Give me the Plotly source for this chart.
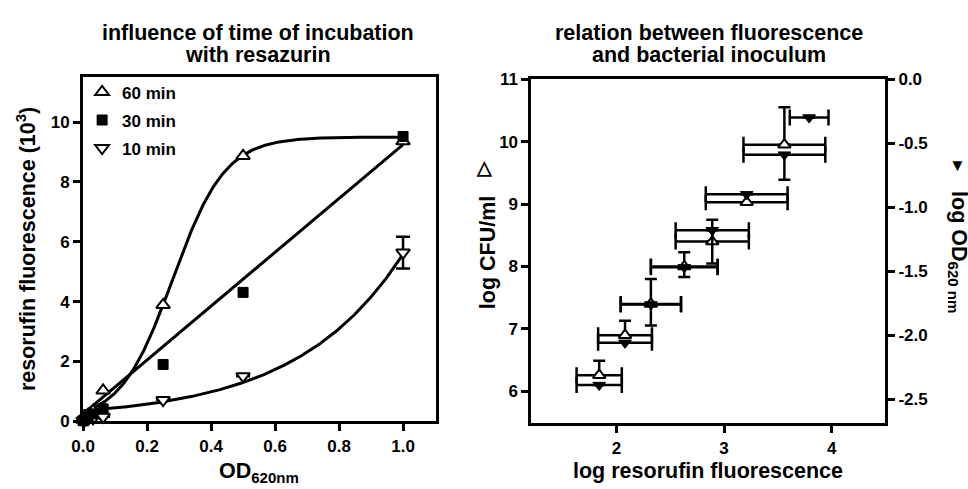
import numpy as np
import plotly.graph_objects as go

W, H = 968, 489
FONT = "Liberation Sans, Arial, Helvetica, sans-serif"

# ---- Left panel: resorufin fluorescence (x10^3) vs OD620 for three incubation times
od = [0.0, 0.004, 0.008, 0.0156, 0.031, 0.0625, 0.25, 0.5, 1.0]
fl_60 = [0.05, 0.10, 0.15, 0.22, 0.35, 1.03, 3.89, 8.87, 9.36]
fl_30 = [0.02, 0.05, 0.10, 0.15, 0.25, 0.42, 1.90, 4.31, 9.52]
fl_10 = [0.02, 0.04, 0.06, 0.08, 0.10, 0.15, 0.71, 1.51, 5.64]
fl_10_err = [None, None, None, None, None, None, None, None, 0.53]

# fitted models drawn through each series
sig_top, sig_bottom, sig_v50, sig_slope = 9.5, 0.0, 0.28, 0.082   # 60 min, Boltzmann sigmoid
lin_slope, lin_icpt = 9.0, 0.25                                  # 30 min, straight line
exp_a, exp_b, exp_k = 0.081, 0.269, 3.02                         # 10 min, exponential growth

# ---- Right panel: log CFU/ml and log OD620 vs log resorufin fluorescence
log_fluor = [1.84, 2.08, 2.32, 2.63, 2.89, 3.21, 3.56, 3.79]
log_fluor_err = [0.21, 0.25, 0.28, 0.31, 0.34, 0.38, 0.38, 0.18]
log_cfu = [6.26, 6.90, 7.40, 8.00, 8.40, 9.03, 9.95]
log_cfu_err_up = [0.23, 0.23, 0.40, 0.23, 0.35, None, 0.60]
log_od = [-2.39, -2.06, -1.76, -1.47, -1.18, -0.90, -0.59, -0.30]
log_od_err_down = [None, None, 0.165, 0.075, 0.26, None, 0.195, None]

x1_ticks = [0.0, 0.2, 0.4, 0.6, 0.8, 1.0]
y1_ticks = [0, 2, 4, 6, 8, 10]
x2_ticks = [2, 3, 4]
y2_ticks = [6, 7, 8, 9, 10, 11]
y3_ticks = [0.0, -0.5, -1.0, -1.5, -2.0, -2.5]

fig = go.Figure()

xs = np.linspace(0, 1, 300)
curve_60 = sig_bottom + (sig_top - sig_bottom) / (1 + np.exp((sig_v50 - xs) / sig_slope))
curve_30 = lin_icpt + lin_slope * xs
curve_10 = exp_a + exp_b * np.exp(exp_k * xs)
for cy in (curve_60, curve_30, curve_10):
    fig.add_trace(go.Scatter(x=xs, y=cy, mode="lines", line=dict(color="black", width=3),
                             showlegend=False, hoverinfo="skip", xaxis="x", yaxis="y"))

mk_line = dict(color="black", width=2)
fig.add_trace(go.Scatter(
    x=od, y=fl_60, mode="markers", name="60 min", legendgroup="a", legendrank=1,
    marker=dict(symbol="triangle-up", size=12, color="white", line=mk_line),
    cliponaxis=False, xaxis="x", yaxis="y"))
fig.add_trace(go.Scatter(
    x=od, y=fl_10, mode="markers", name="10 min", legendgroup="c", legendrank=3,
    marker=dict(symbol="triangle-down", size=12, color="white", line=mk_line),
    error_y=dict(type="data", array=fl_10_err, color="black", thickness=2.5, width=7),
    cliponaxis=False, xaxis="x", yaxis="y"))
fig.add_trace(go.Scatter(
    x=od, y=fl_30, mode="markers", name="30 min", legendgroup="b", legendrank=2,
    marker=dict(symbol="square", size=10, color="black", line=dict(color="black", width=1)),
    cliponaxis=False, xaxis="x", yaxis="y"))

n_cfu = len(log_cfu)
fig.add_trace(go.Scatter(
    x=log_fluor[:n_cfu], y=log_cfu, mode="markers", showlegend=False,
    marker=dict(symbol="triangle-up", size=11, color="white", line=mk_line),
    error_x=dict(type="data", array=log_fluor_err[:n_cfu], color="black", thickness=2.5, width=8),
    error_y=dict(type="data", symmetric=False, array=log_cfu_err_up,
                 arrayminus=[0 if v is not None else None for v in log_cfu_err_up],
                 color="black", thickness=2.5, width=6),
    cliponaxis=False, xaxis="x2", yaxis="y2"))
fig.add_trace(go.Scatter(
    x=log_fluor, y=log_od, mode="markers", showlegend=False,
    marker=dict(symbol="triangle-down", size=11, color="black", line=dict(color="black", width=1)),
    error_x=dict(type="data", array=log_fluor_err, color="black", thickness=2.5, width=8),
    error_y=dict(type="data", symmetric=False, arrayminus=log_od_err_down,
                 array=[0 if v is not None else None for v in log_od_err_down],
                 color="black", thickness=2.5, width=6),
    cliponaxis=False, xaxis="x2", yaxis="y3"))

tickfont = dict(family=FONT, size=17, color="black", weight="bold")
base = dict(showline=True, linecolor="black", linewidth=3, ticks="outside", ticklen=7,
            tickwidth=3, tickcolor="black", showgrid=False, zeroline=False, tickfont=tickfont)

fig.update_layout(
    width=W, height=H, margin=dict(l=0, r=0, t=0, b=0),
    paper_bgcolor="white", plot_bgcolor="white",
    font=dict(family=FONT, color="black", weight="bold"),
    xaxis=dict(base, domain=[72 / W, 429 / W], range=[0, 1.102], tickvals=x1_ticks,
               ticktext=[f"{v:.1f}" for v in x1_ticks], mirror=True, anchor="y"),
    yaxis=dict(base, domain=[1 - 429 / H, 1 - 71 / H], range=[0, 11.5], tickvals=y1_ticks,
               ticktext=[str(v) for v in y1_ticks], mirror=True, anchor="x"),
    xaxis2=dict(base, domain=[526 / W, 884 / W], range=[1.211, 4.495], tickvals=x2_ticks,
                ticktext=[str(v) for v in x2_ticks], mirror=True, anchor="y2"),
    yaxis2=dict(base, domain=[1 - 431 / H, 1 - 73 / H], range=[5.49, 11], tickvals=y2_ticks,
                ticktext=[str(v) for v in y2_ticks], anchor="x2"),
    yaxis3=dict(base, overlaying="y2", side="right", anchor="x2", range=[-2.688, 0],
                tickvals=y3_ticks, ticktext=[f"{v:.1f}" for v in y3_ticks]),
    legend=dict(x=71 / W, xanchor="left", y=1 - 68 / H, yanchor="top",
                font=dict(family=FONT, size=17, color="black", weight="bold"),
                bgcolor="rgba(0,0,0,0)", tracegroupgap=3, itemclick=False),
    showlegend=True,
)


def label(text, px, py, size=21.5, angle=0):
    fig.add_annotation(text=text, x=px / W, y=1 - py / H, xref="paper", yref="paper",
                       showarrow=False, textangle=angle, xanchor="center", yanchor="middle",
                       font=dict(family=FONT, size=size, color="black", weight="bold"))


label("influence of time of incubation", 249, 25)
label("with resazurin", 249, 48)
label("relation between fluorescence", 706, 25)
label("and bacterial inoculum", 706, 48)
label("resorufin fluorescence (10<sup>3</sup>)", 14, 250, angle=-90)
label("OD<sub>620nm</sub>", 250, 482)
label("log resorufin fluorescence", 705, 481)
label("log CFU/ml", 482, 254, angle=-90)
label("△", 478, 165, size=19)
label("log OD<sub>620 nm</sub>", 958, 253, angle=90)
label("▼", 957, 163, size=17)

fig.write_html("out.html")
